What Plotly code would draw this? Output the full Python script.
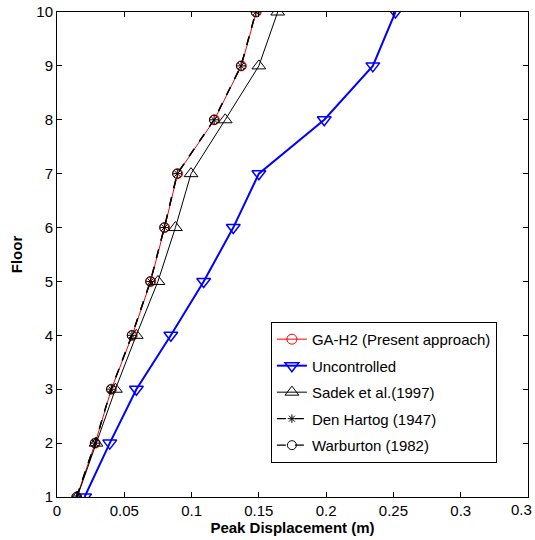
import plotly.graph_objects as go

floors = [1, 2, 3, 4, 5, 6, 7, 8, 9, 10]
ga_h2 = [0.0147, 0.0284, 0.0404, 0.0559, 0.0696, 0.0800, 0.0896, 0.1170, 0.1370, 0.1480]
uncontrolled = [0.0205, 0.0392, 0.0590, 0.0846, 0.1090, 0.1310, 0.1500, 0.1986, 0.2347, 0.2515]
sadek = [0.0150, 0.0290, 0.0434, 0.0589, 0.0750, 0.0880, 0.0996, 0.1250, 0.1500, 0.1640]
den_hartog = [0.0146, 0.0283, 0.0403, 0.0557, 0.0694, 0.0798, 0.0894, 0.1168, 0.1368, 0.1478]
warburton = [0.0145, 0.0282, 0.0402, 0.0556, 0.0693, 0.0797, 0.0893, 0.1167, 0.1367, 0.1477]

xtick_vals = [0, 0.05, 0.1, 0.15, 0.2, 0.25, 0.3, 0.35]
xtick_text = ["0", "0.05", "0.1", "0.15", "0.2", "0.25", "0.3", ""]
last_tick_label = "0.3"  # label shown at the 0.35 tick (right edge)

FONT = "Liberation Sans, Arial"

fig = go.Figure()
fig.add_trace(go.Scatter(x=ga_h2, y=floors, name="GA-H2 (Present approach)", mode="lines+markers",
                         legendgroup="a",
                         line=dict(color="red", width=1),
                         marker=dict(symbol="circle-open", size=10, color="red", line=dict(width=1))))
fig.add_trace(go.Scatter(x=uncontrolled, y=floors, name="Uncontrolled", mode="lines+markers",
                         legendgroup="b",
                         line=dict(color="blue", width=2),
                         marker=dict(symbol="triangle-down-open", size=12, color="blue", line=dict(width=1.5))))
fig.add_trace(go.Scatter(x=sadek, y=floors, name="Sadek et al.(1997)", mode="lines+markers",
                         legendgroup="c",
                         line=dict(color="black", width=1),
                         marker=dict(symbol="triangle-up-open", size=12, color="black", line=dict(width=1))))
fig.add_trace(go.Scatter(x=den_hartog, y=floors, name="Den Hartog (1947)", mode="lines+markers",
                         legendgroup="d",
                         line=dict(color="black", width=1.3, dash="dash"),
                         marker=dict(symbol="asterisk-open", size=7, color="black", line=dict(width=1))))
fig.add_trace(go.Scatter(x=warburton, y=floors, name="Warburton (1982)", mode="lines+markers",
                         legendgroup="e",
                         line=dict(color="black", width=1.3, dash="dash"),
                         marker=dict(symbol="circle-open", size=9, color="black", line=dict(width=1))))

axis_common = dict(showline=True, linecolor="black", linewidth=1, mirror="ticks",
                   ticks="inside", ticklen=5, tickcolor="black", showgrid=False, zeroline=False,
                   automargin=False, ticklabeloverflow="allow",
                   tickfont=dict(family=FONT, size=15, color="black"))

fig.update_layout(
    width=535, height=540,
    margin=dict(l=57, r=7, t=12, b=43),
    paper_bgcolor="white", plot_bgcolor="white",
    font=dict(family=FONT, size=15, color="black"),
    showlegend=True,
    legend=dict(x=0.934, xanchor="right", y=0.361, yanchor="top",
                bordercolor="black", borderwidth=1, bgcolor="white",
                font=dict(size=15), tracegroupgap=4, itemsizing="trace"),
    xaxis=dict(range=[0, 0.35], tickvals=xtick_vals, ticktext=xtick_text,
               title=dict(text="<b>Peak Displacement (m)</b>", standoff=0, font=dict(size=15)),
               **axis_common),
    yaxis=dict(range=[1, 10], tickvals=floors,
               title=dict(text="<b>Floor</b>", standoff=10, font=dict(size=15)),
               **axis_common),
    annotations=[dict(x=xtick_vals[-1], xref="x", y=0, yref="paper", text=last_tick_label,
                      showarrow=False, xanchor="right", yanchor="top", xshift=6, yshift=-2,
                      font=dict(family=FONT, size=15, color="black"))],
)

fig.write_html("out.html", config={"displayModeBar": False},
               post_script="document.body.style.margin='0';document.body.style.overflow='hidden';")
